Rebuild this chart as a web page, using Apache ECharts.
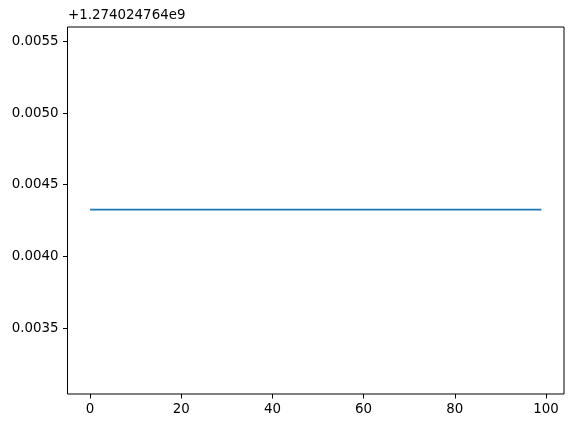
<!DOCTYPE html>
<html lang="en">
<head>
    <meta charset="UTF-8">
    <title>offset line</title>
    <script src="https://cdn.jsdelivr.net/npm/echarts@6/dist/echarts.min.js"></script>
<style>
    html,body{margin:0;padding:0;background:#fff;}
    #xian{width:573px;height:428px;}
</style>
</head>
<body>
<div id="xian"></div>
<script>
    // 偏移量，显示在左上角
    var pianyi = '+1.274024764e9';
    var xTicks = [0, 20, 40, 60, 80, 100];
    var yTicks = [0.0035, 0.0040, 0.0045, 0.0050, 0.0055];
    var yMin = 0.00304, yMax = 0.0056;
    var xMin = -4.95, xMax = 103.95;
    // 减去偏移量后的值
    var shuju = [
        0.0043260, 0.0043260, 0.0043260, 0.0043259, 0.0043259, 0.0043259, 0.0043260, 0.0043259, 0.0043259, 0.0043259,
        0.0043259, 0.0043259, 0.0043259, 0.0043259, 0.0043259, 0.0043259, 0.0043259, 0.0043259, 0.0043259, 0.0043258,
        0.0043258, 0.0043259, 0.0043259, 0.0043259, 0.0043259, 0.0043259, 0.0043259, 0.0043259, 0.0043259, 0.0043259,
        0.0043259, 0.0043259, 0.0043259, 0.0043260, 0.0043260, 0.0043259, 0.0043259, 0.0043259, 0.0043259, 0.0043259,
        0.0043259, 0.0043259, 0.0043259, 0.0043259, 0.0043259, 0.0043259, 0.0043259, 0.0043259, 0.0043259, 0.0043259,
        0.0043259, 0.0043259, 0.0043258, 0.0043259, 0.0043259, 0.0043259, 0.0043259, 0.0043259, 0.0043259, 0.0043259,
        0.0043259, 0.0043259, 0.0043260, 0.0043259, 0.0043259, 0.0043259, 0.0043259, 0.0043259, 0.0043259, 0.0043259,
        0.0043259, 0.0043259, 0.0043259, 0.0043259, 0.0043259, 0.0043259, 0.0043259, 0.0043259, 0.0043259, 0.0043260,
        0.0043260, 0.0043259, 0.0043259, 0.0043258, 0.0043258, 0.0043259, 0.0043259, 0.0043259, 0.0043259, 0.0043259,
        0.0043259, 0.0043259, 0.0043260, 0.0043259, 0.0043259, 0.0043259, 0.0043259, 0.0043259, 0.0043259, 0.0043259
    ];

    function xian() {
        var chart = echarts.init(document.getElementById('xian'));
        var dian = shuju.map(function (v, i) { return [i, v]; });
        var ziti = {color: '#000', fontSize: 13.4, fontFamily: 'DejaVu Sans'};
        var option = {
            animation: false,
            backgroundColor: '#fff',
            grid: {
                left: 67.5, right: 9, top: 27, bottom: 34,
                show: true, borderColor: '#000', borderWidth: 1
            },
            xAxis: {
                type: 'value', min: xMin, max: xMax,
                splitLine: {show: false},
                axisLine: {show: false, onZero: false},
                axisTick: {show: true, length: 4.5, customValues: xTicks, lineStyle: {color: '#000', width: 1}},
                axisLabel: Object.assign({margin: 9, customValues: xTicks, formatter: function (v) { return String(v); }}, ziti)
            },
            yAxis: {
                type: 'value', min: yMin, max: yMax,
                splitLine: {show: false},
                axisLine: {show: false, onZero: false},
                axisTick: {show: true, length: 4.5, customValues: yTicks, lineStyle: {color: '#000', width: 1}},
                axisLabel: Object.assign({margin: 9, customValues: yTicks, formatter: function (v) { return v.toFixed(4); }}, ziti)
            },
            graphic: [{
                type: 'text', left: 68, top: 9,
                style: {text: pianyi, fill: '#000', font: '13.4px "DejaVu Sans"'}
            }],
            series: [{
                type: 'line',
                data: dian,
                showSymbol: false,
                lineStyle: {color: '#1f77b4', width: 1.8}
            }]
        };
        chart.setOption(option);
    }

    xian();
</script>
</body>
</html>
